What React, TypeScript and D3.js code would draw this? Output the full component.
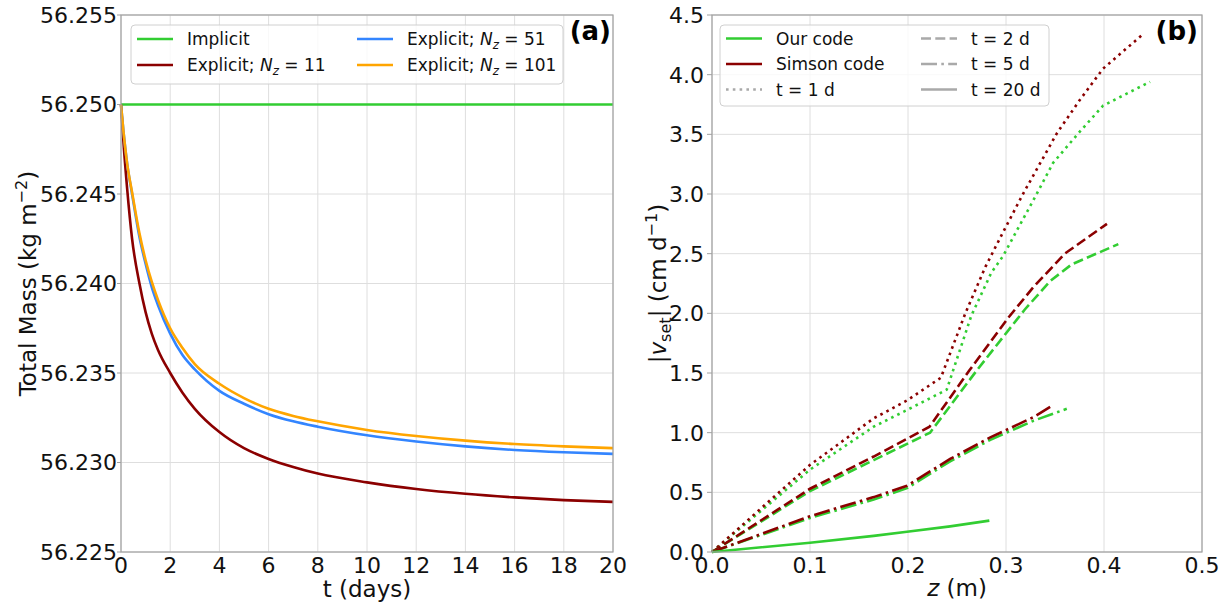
import React from "react";
import * as d3 from "d3";

// ---------- Panel (a) data ----------
const massT = [0, 0.1, 0.25, 0.45, 0.75, 1, 1.25, 1.5, 2, 2.5, 3, 4, 5, 6, 7, 8, 10, 12, 14, 16, 18, 20];
const massImplicit = [56.25, 56.25, 56.25, 56.25, 56.25, 56.25, 56.25, 56.25, 56.25, 56.25, 56.25, 56.25, 56.25, 56.25, 56.25, 56.25, 56.25, 56.25, 56.25, 56.25, 56.25, 56.25];
const massNz11 = [56.25, 56.2479, 56.2453, 56.2425, 56.24, 56.2384, 56.2372, 56.2363, 56.235, 56.2339, 56.233, 56.2317, 56.2308, 56.2302, 56.22975, 56.22938, 56.22889, 56.22852, 56.22825, 56.22805, 56.2279, 56.2278];
const massNz51 = [56.25, 56.2485, 56.2467, 56.245, 56.2426, 56.2411, 56.2398, 56.2388, 56.2372, 56.236, 56.2352, 56.234, 56.23328, 56.2327, 56.2323, 56.232, 56.23152, 56.23117, 56.2309, 56.2307, 56.23057, 56.23048];
const massNz101 = [56.25, 56.2485, 56.2467, 56.2451, 56.2428, 56.2413, 56.2401, 56.2391, 56.2375, 56.2364, 56.2355, 56.2344, 56.2336, 56.233, 56.2326, 56.2323, 56.23182, 56.23148, 56.23122, 56.23103, 56.2309, 56.2308];
const massXTicks = [0, 2, 4, 6, 8, 10, 12, 14, 16, 18, 20];
const massYTicks = [56.225, 56.23, 56.235, 56.24, 56.245, 56.25, 56.255];

// ---------- Panel (b) data ----------
const ourT1Z = [0, 0.1, 0.165, 0.199, 0.2395, 0.2646, 0.285, 0.297, 0.328, 0.348, 0.374, 0.399, 0.447];
const ourT1V = [0, 0.69, 1.05, 1.19, 1.36, 1.98, 2.34, 2.48, 2.95, 3.26, 3.51, 3.74, 3.94];
const simT1Z = [0, 0.1, 0.165, 0.199, 0.2335, 0.2585, 0.279, 0.297, 0.318, 0.352, 0.3755, 0.399, 0.4385];
const simT1V = [0, 0.73, 1.12, 1.27, 1.46, 2.0, 2.39, 2.68, 3.01, 3.51, 3.79, 4.05, 4.33];
const ourT2Z = [0, 0.1, 0.165, 0.2225, 0.27, 0.319, 0.345, 0.367, 0.4146];
const ourT2V = [0, 0.51, 0.77, 1.0, 1.52, 2.03, 2.27, 2.41, 2.58];
const simT2Z = [0, 0.1, 0.165, 0.222, 0.2625, 0.302, 0.328, 0.36, 0.403];
const simT2V = [0, 0.53, 0.8, 1.05, 1.52, 1.96, 2.22, 2.5, 2.75];
const ourT5Z = [0, 0.1, 0.165, 0.199, 0.243, 0.284, 0.328, 0.362];
const ourT5V = [0, 0.285, 0.44, 0.535, 0.76, 0.94, 1.1, 1.2];
const simT5Z = [0, 0.1, 0.165, 0.199, 0.243, 0.284, 0.328, 0.348];
const simT5V = [0, 0.3, 0.46, 0.555, 0.78, 0.96, 1.13, 1.23];
const ourT20Z = [0, 0.1, 0.165, 0.199, 0.243, 0.283];
const ourT20V = [0, 0.078, 0.135, 0.17, 0.215, 0.263];
const velXTicks = [0, 0.1, 0.2, 0.3, 0.4, 0.5];
const velYTicks = [0, 0.5, 1, 1.5, 2, 2.5, 3, 3.5, 4, 4.5];

const FONT = "DejaVu Sans";
const GREEN = "#32cd32";
const DARKRED = "#8b0000";
const BLUE = "#3385ff";
const ORANGE = "#ffa500";
const GRAY = "#a9a9a9";
const SPINE = "#a0a0a0";
const GRID = "#dedede";
const LW = 2.6;
const DOT = "2.6,4.2";
const DASH = "10,4.3";
const DASHDOT = "16,4.3,2.6,4.3";

function zip(xs: number[], ys: number[]): [number, number][] {
  return xs.map((x, i) => [x, ys[i]]);
}

export default function App() {
  const W = 1228, H = 605;
  const top = 15, bottom = 552;
  // panel a
  const ax = d3.scaleLinear().domain([0, 20]).range([121, 613]);
  const ay = d3.scaleLinear().domain([56.225, 56.255]).range([bottom, top]);
  // panel b
  const bx = d3.scaleLinear().domain([0, 0.5]).range([712, 1202]);
  const by = d3.scaleLinear().domain([0, 4.5]).range([bottom, top]);

  const lineA = d3.line<[number, number]>().x(d => ax(d[0])).y(d => ay(d[1])).curve(d3.curveMonotoneX);
  const lineB = d3.line<[number, number]>().x(d => bx(d[0])).y(d => by(d[1]));

  const massSeries = [
    { vals: massImplicit, color: GREEN },
    { vals: massNz11, color: DARKRED },
    { vals: massNz51, color: BLUE },
    { vals: massNz101, color: ORANGE },
  ];

  const velSeries = [
    { z: ourT1Z, v: ourT1V, color: GREEN, dash: DOT },
    { z: simT1Z, v: simT1V, color: DARKRED, dash: DOT },
    { z: ourT2Z, v: ourT2V, color: GREEN, dash: DASH },
    { z: simT2Z, v: simT2V, color: DARKRED, dash: DASH },
    { z: ourT5Z, v: ourT5V, color: GREEN, dash: DASHDOT },
    { z: simT5Z, v: simT5V, color: DARKRED, dash: DASHDOT },
    { z: ourT20Z, v: ourT20V, color: GREEN, dash: undefined as string | undefined },
  ];

  const tickFs = 22;
  const labFs = 23;
  const legFs = 17;

  return (
    <svg width={W} height={H} style={{ display: "block", fontFamily: FONT, position: "absolute", left: 0, top: 0 }}>
      <rect x={0} y={0} width={W} height={H} fill="#fff" />
      {/* ================= Panel a ================= */}
      <g>
        {massXTicks.map(t => (
          <line key={"gx" + t} x1={ax(t)} x2={ax(t)} y1={top} y2={bottom} stroke={GRID} strokeWidth={1} />
        ))}
        {massYTicks.map(t => (
          <line key={"gy" + t} x1={121} x2={613} y1={ay(t)} y2={ay(t)} stroke={GRID} strokeWidth={1} />
        ))}
        {massSeries.map((s, i) => (
          <path key={i} d={lineA(zip(massT, s.vals)) || ""} fill="none" stroke={s.color} strokeWidth={LW} />
        ))}
        <rect x={121} y={top} width={613 - 121} height={bottom - top} fill="none" stroke={SPINE} strokeWidth={1.2} />
        {massYTicks.map(t => (
          <g key={"ty" + t}>
            <line x1={117} x2={121} y1={ay(t)} y2={ay(t)} stroke={SPINE} strokeWidth={1} />
            <text x={117} y={ay(t)} dy="0.36em" textAnchor="end" fontSize={tickFs} fill="#111">{t.toFixed(3)}</text>
          </g>
        ))}
        {massXTicks.map(t => (
          <text key={"tx" + t} x={ax(t)} y={bottom + 21} textAnchor="middle" fontSize={tickFs} fill="#111">{t}</text>
        ))}
        <text x={ax(10)} y={597} textAnchor="middle" fontSize={labFs} fill="#111">t (days)</text>
        <text transform={`translate(36,${(top + bottom) / 2}) rotate(-90)`} textAnchor="middle" fontSize={labFs} fill="#111">
          Total Mass (kg m<tspan fontSize="70%" dy="-9">−2</tspan><tspan dy="9">)</tspan>
        </text>
        <text x={611} y={40} textAnchor="end" fontSize={26} fontWeight="bold" fill="#000">(a)</text>
        {/* legend a */}
        <rect x={131} y={25} width={432} height={59} rx={4} fill="#fff" fillOpacity={0.8} stroke="#d0d0d0" strokeWidth={1} />
        {[
          { label: "Implicit", color: GREEN, col: 0, row: 0 },
          { label: "11", color: DARKRED, col: 0, row: 1, nz: true },
          { label: "51", color: BLUE, col: 1, row: 0, nz: true },
          { label: "101", color: ORANGE, col: 1, row: 1, nz: true },
        ].map((e, i) => {
          const hx = e.col === 0 ? 137 : 357;
          const tx = e.col === 0 ? 187 : 407;
          const yy = 39 + e.row * 26;
          return (
            <g key={"la" + i}>
              <line x1={hx} x2={hx + 36} y1={yy} y2={yy} stroke={e.color} strokeWidth={LW} />
              {e.nz ? (
                <text x={tx} y={yy} dy="0.36em" fontSize={legFs} fill="#111">
                  Explicit; <tspan fontStyle="italic">N</tspan>
                  <tspan fontStyle="italic" fontSize="70%" dy="4">z</tspan>
                  <tspan dy="-4">{" = " + e.label}</tspan>
                </text>
              ) : (
                <text x={tx} y={yy} dy="0.36em" fontSize={legFs} fill="#111">{e.label}</text>
              )}
            </g>
          );
        })}
      </g>

      {/* ================= Panel b ================= */}
      <g>
        {velXTicks.map(t => (
          <line key={"gbx" + t} x1={bx(t)} x2={bx(t)} y1={top} y2={bottom} stroke={GRID} strokeWidth={1} />
        ))}
        {velYTicks.map(t => (
          <line key={"gby" + t} x1={712} x2={1202} y1={by(t)} y2={by(t)} stroke={GRID} strokeWidth={1} />
        ))}
        {velSeries.map((s, i) => (
          <path key={i} d={lineB(zip(s.z, s.v)) || ""} fill="none" stroke={s.color} strokeWidth={LW} strokeDasharray={s.dash} />
        ))}
        <rect x={712} y={top} width={1202 - 712} height={bottom - top} fill="none" stroke={SPINE} strokeWidth={1.2} />
        {velYTicks.map(t => (
          <g key={"tby" + t}>
            <line x1={707} x2={712} y1={by(t)} y2={by(t)} stroke={SPINE} strokeWidth={1} />
            <text x={704} y={by(t)} dy="0.36em" textAnchor="end" fontSize={tickFs} fill="#111">{t.toFixed(1)}</text>
          </g>
        ))}
        {velXTicks.map(t => (
          <text key={"tbx" + t} x={bx(t)} y={bottom + 21} textAnchor="middle" fontSize={tickFs} fill="#111">{t.toFixed(1)}</text>
        ))}
        <text x={bx(0.25)} y={596} textAnchor="middle" fontSize={labFs} fill="#111">
          <tspan fontStyle="italic">z</tspan> (m)
        </text>
        <text transform={`translate(666,${(top + bottom) / 2}) rotate(-90)`} textAnchor="middle" fontSize={labFs} fill="#111">
          |<tspan fontStyle="italic">v</tspan><tspan fontSize="70%" dy="5">set</tspan><tspan dy="-5">| (cm d</tspan>
          <tspan fontSize="70%" dy="-9">−1</tspan><tspan dy="9">)</tspan>
        </text>
        <text x={1198} y={40} textAnchor="end" fontSize={26} fontWeight="bold" fill="#000">(b)</text>
        {/* legend b */}
        <rect x={720} y={25} width={329} height={81} rx={4} fill="#fff" fillOpacity={0.8} stroke="#d0d0d0" strokeWidth={1} />
        {[
          { label: "Our code", color: GREEN, dash: undefined as string | undefined, col: 0, row: 0 },
          { label: "Simson code", color: DARKRED, dash: undefined, col: 0, row: 1 },
          { label: "t = 1 d", color: GRAY, dash: DOT, col: 0, row: 2 },
          { label: "t = 2 d", color: GRAY, dash: DASH, col: 1, row: 0 },
          { label: "t = 5 d", color: GRAY, dash: DASHDOT, col: 1, row: 1 },
          { label: "t = 20 d", color: GRAY, dash: undefined, col: 1, row: 2 },
        ].map((e, i) => {
          const hx = e.col === 0 ? 726 : 921;
          const tx = e.col === 0 ? 776 : 971;
          const yy = 38.5 + e.row * 25.5;
          return (
            <g key={"lb" + i}>
              <line x1={hx} x2={hx + 36} y1={yy} y2={yy} stroke={e.color} strokeWidth={LW} strokeDasharray={e.dash} />
              <text x={tx} y={yy} dy="0.36em" fontSize={legFs} fill="#111">{e.label}</text>
            </g>
          );
        })}
      </g>
    </svg>
  );
}
